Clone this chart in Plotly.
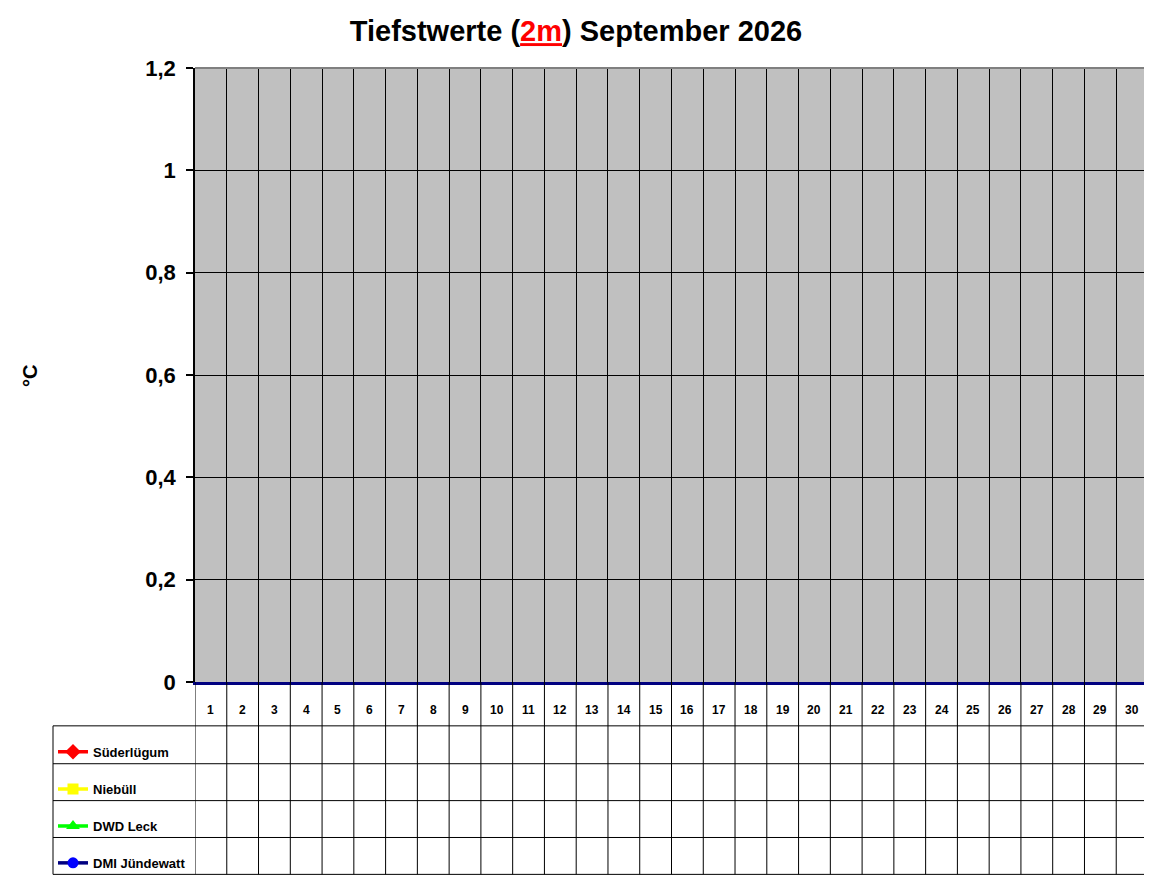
import plotly.graph_objects as go

# ---------------- data ----------------
days = list(range(1, 31))
series_names = ["Süderlügum", "Niebüll", "DWD Leck", "DMI Jündewatt"]
sued_values = [None] * 30
nieb_values = [None] * 30
leck_values = [None] * 30
juend_values = [None] * 30
y_ticks = [0, 0.2, 0.4, 0.6, 0.8, 1.0, 1.2]

line_colors = ["#FF0000", "#FFFF00", "#00FF00", "#000080"]
marker_colors = ["#FF0000", "#FFFF00", "#00FF00", "#0000FF"]
marker_symbols = ["diamond", "square", "triangle-up", "circle"]
marker_sizes = [12, 11, 12, 11]
all_values = [sued_values, nieb_values, leck_values, juend_values]

FONT = "Liberation Sans, Arial, sans-serif"

# ---------------- geometry (pixels, page coords; page body has 8px margin) ----------------
OFF = 8
W, H = 1152 - OFF, 882 - OFF
L, R, T, B = 195 - OFF, 1148 - OFF, 68 - OFF, 684 - OFF
pw, ph = R - L, B - T


def px_x(p):
    return (p - OFF - L) / pw


def px_y(p):
    return (B - (p - OFF)) / ph


fig = go.Figure()

legend_names = ["legend", "legend2", "legend3", "legend4"]
row_edges = [728, 766, 803, 840, 877]

for i, (name, vals) in enumerate(zip(series_names, all_values)):
    fig.add_trace(go.Scatter(
        x=days, y=vals, name=name, mode="lines+markers",
        line=dict(color=line_colors[i], width=3.5),
        marker=dict(color=marker_colors[i], symbol=marker_symbols[i], size=marker_sizes[i],
                    line=dict(width=0)),
        legend=legend_names[i], showlegend=True,
    ))

layout_legends = {}
for i, ln in enumerate(legend_names):
    center = (row_edges[i] + row_edges[i + 1]) / 2 + 7
    layout_legends[ln] = dict(
        x=px_x(53), y=px_y(center), xanchor="left", yanchor="middle",
        bgcolor="rgba(0,0,0,0)", borderwidth=0,
        font=dict(family=FONT, size=13, color="black", weight="bold"),
        itemwidth=30,
    )

shapes = []
# vertical lines through the data table (category boundaries)
bounds = [d - 0.5 for d in days] + [days[-1] + 0.5]
for bx in bounds:
    shapes.append(dict(type="line", xref="x", yref="paper", x0=bx, x1=bx,
                       y0=px_y(684), y1=px_y(row_edges[-1]),
                       line=dict(color="black", width=1)))
# horizontal table lines
for ry in row_edges:
    shapes.append(dict(type="line", xref="paper", yref="paper",
                       x0=px_x(53), x1=1, y0=px_y(ry), y1=px_y(ry),
                       line=dict(color="black", width=1)))
# left border of legend column
shapes.append(dict(type="line", xref="paper", yref="paper",
                   x0=px_x(53), x1=px_x(53), y0=px_y(row_edges[0]), y1=px_y(row_edges[-1]),
                   line=dict(color="black", width=1)))
# gray top/right plot border
shapes.append(dict(type="line", xref="paper", yref="paper", x0=0, x1=1, y0=1, y1=1,
                   line=dict(color="#808080", width=2)))
shapes.append(dict(type="line", xref="paper", yref="paper", x0=1, x1=1, y0=0, y1=1,
                   line=dict(color="#808080", width=2)))

annotations = []
for d in days:
    annotations.append(dict(x=d, y=px_y(712), xref="x", yref="paper", text=str(d),
                            showarrow=False, xanchor="center", yanchor="middle",
                            font=dict(family=FONT, size=12, color="black", weight="bold")))
annotations.append(dict(x=px_x(30), y=px_y(377), xref="paper", yref="paper", text="°C",
                        textangle=-90, showarrow=False, xanchor="center", yanchor="middle",
                        font=dict(family=FONT, size=20, color="black", weight="bold")))

fig.update_layout(
    width=W, height=H,
    margin=dict(l=L, r=W - R, t=T, b=H - B, pad=0),
    paper_bgcolor="white", plot_bgcolor="#C0C0C0",
    separators=",.",
    title=dict(text="<b>Tiefstwerte (<span style='color:#FF0000'><u>2m</u></span>) September 2026</b>",
               x=px_x(576), xanchor="center", xref="paper", y=1 - (31 - OFF) / H, yanchor="middle",
               font=dict(family=FONT, size=29, color="black")),
    xaxis=dict(range=[days[0] - 0.5, days[-1] + 0.5], tickmode="array",
               tickvals=bounds[1:-1], showticklabels=False, ticks="",
               showgrid=True, gridcolor="black", gridwidth=1,
               showline=True, linecolor="#000080", linewidth=2.5,
               zeroline=False, fixedrange=True),
    yaxis=dict(range=[y_ticks[0], y_ticks[-1]], tickmode="array", tickvals=y_ticks,
               showgrid=True, gridcolor="black", gridwidth=1,
               showline=True, linecolor="black", linewidth=1.5,
               ticks="outside", ticklen=7, tickcolor="black", tickwidth=1.5,
               zeroline=False, ticklabelstandoff=6,
               tickfont=dict(family=FONT, size=22, color="black", weight="bold")),
    shapes=shapes, annotations=annotations,
    **layout_legends,
)

fig.write_html("out.html")
